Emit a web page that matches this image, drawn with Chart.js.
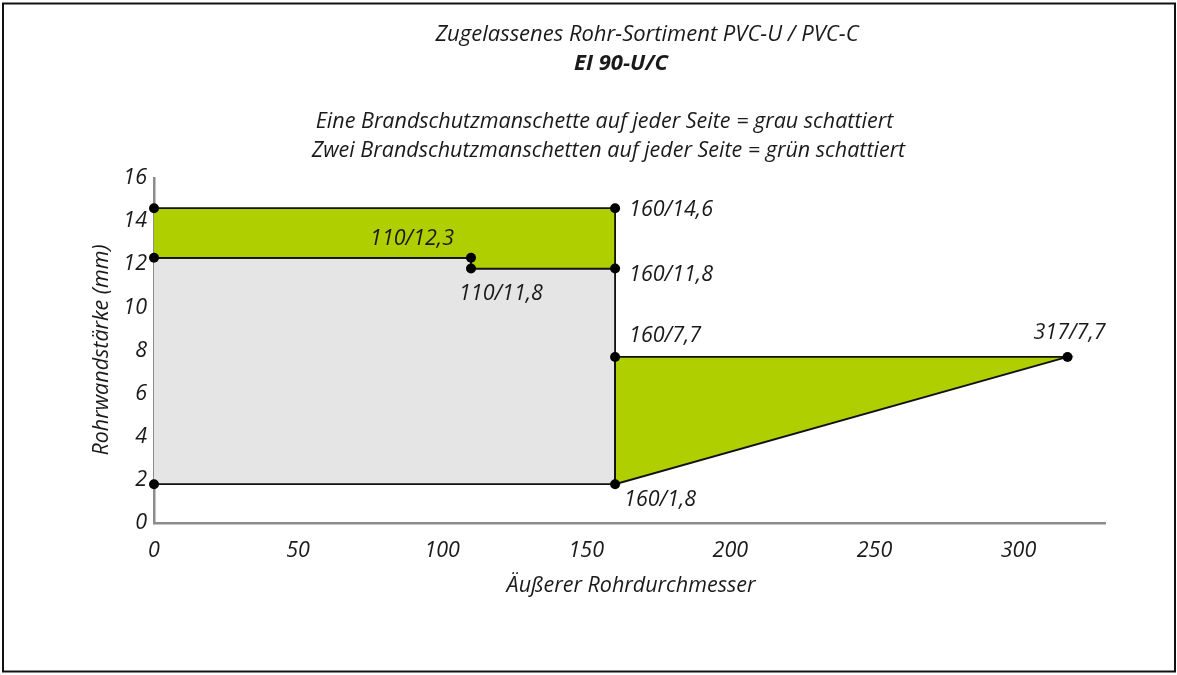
<!DOCTYPE html>
<html>
<head>
<meta charset="utf-8">
<script src="https://cdn.jsdelivr.net/npm/chart.js@4/dist/chart.umd.min.js"></script>
<style>
  html, body { margin: 0; padding: 0; background: #fff; }
  #wrap { width: 1177px; height: 675px; position: relative; }
</style>
</head>
<body>
<div id="wrap"><canvas id="c" width="1177" height="675"></canvas></div>
<script>
// ---- data ----
const titleLines = ['Zugelassenes Rohr-Sortiment PVC-U / PVC-C', 'EI 90-U/C',
  'Eine Brandschutzmanschette auf jeder Seite = grau schattiert',
  'Zwei Brandschutzmanschetten auf jeder Seite = grün schattiert'];
const xAxisTitle = 'Äußerer Rohrdurchmesser';
const yAxisTitle = 'Rohrwandstärke (mm)';

// grey area (one collar on each side) – left edge lies on the axis
const greyX = [0, 110, 110, 160, 160, 0];
const greyY = [12.3, 12.3, 11.8, 11.8, 1.8, 1.8];
// green area top (two collars)
const greenTopX = [0, 160, 160, 110, 110, 0];
const greenTopY = [14.6, 14.6, 11.8, 11.8, 12.3, 12.3];
// green triangle (two collars)
const greenTriX = [160, 317, 160, 160];
const greenTriY = [7.7, 7.7, 1.8, 7.7];
// marked points
const pointX = [0, 0, 0, 110, 110, 160, 160, 160, 160, 317];
const pointY = [14.6, 12.3, 1.8, 12.3, 11.8, 14.6, 11.8, 7.7, 1.8, 7.7];
const pointLabels = ['', '', '', '110/12,3', '110/11,8', '160/14,6', '160/11,8', '160/7,7', '160/1,8', '317/7,7'];

const xTicksMin = 0, xTicksMax = 330, xStep = 50;
const yTicksMin = 0, yTicksMax = 16, yStep = 2;

const toPts = (xs, ys) => xs.map((x, i) => ({x: x, y: ys[i]}));

// ---- styles ----
const FONT = '"Open Sans"';
const GREEN = '#b0cf00';
const GREY = '#e5e5e5';
const TXT = '#1a1a1a';

// label placement relative to point: [dx, dy, align]
const labelPlace = [null, null, null,
  [-17, -19, 'right'], [-12, 25, 'left'], [14, 2, 'left'], [14, 6, 'left'],
  [14, -21, 'left'], [9, 16, 'left'], [2, -24, 'center']];

const textPlugin = {
  id: 'texts',
  afterDraw(chart) {
    const ctx = chart.ctx;
    const xs = chart.scales.x, ys = chart.scales.y;
    ctx.save();
    ctx.fillStyle = TXT;
    ctx.textBaseline = 'middle';
    // titles
    ctx.textAlign = 'center';
    ctx.font = 'italic 22px ' + FONT;
    ctx.fillText(titleLines[0], 647, 35);
    ctx.font = 'italic bold 22px ' + FONT;
    ctx.fillText(titleLines[1], 621, 64);
    ctx.font = 'italic 21.5px ' + FONT;
    ctx.fillText(titleLines[2], 604.5, 122);
    ctx.fillText(titleLines[3], 608.5, 151);
    // axis titles
    ctx.fillText(xAxisTitle, 631, 586);
    ctx.save();
    ctx.translate(102, 350);
    ctx.rotate(-Math.PI / 2);
    ctx.fillText(yAxisTitle, 0, 0);
    ctx.restore();
    // point labels
    pointLabels.forEach((lab, i) => {
      if (!lab) return;
      const p = labelPlace[i];
      const px = xs.getPixelForValue(pointX[i]);
      const py = ys.getPixelForValue(pointY[i]);
      ctx.textAlign = p[2];
      ctx.fillText(lab, px + p[0], py + p[1]);
    });
    // frame
    ctx.strokeStyle = '#111';
    ctx.lineWidth = 2;
    ctx.strokeRect(3, 3.5, 1172, 668);
    ctx.restore();
  }
};

new Chart(document.getElementById('c'), {
  type: 'scatter',
  data: {
    datasets: [
      { label: 'Punkte', data: toPts(pointX, pointY), showLine: false, clip: false,
        pointRadius: 5, pointBackgroundColor: '#000', pointBorderWidth: 0, pointHoverRadius: 5 },
      { label: 'grün Dreieck', data: toPts(greenTriX, greenTriY), showLine: true, fill: 'shape',
        backgroundColor: GREEN, borderColor: '#111', borderWidth: 1.8, pointRadius: 0, tension: 0 },
      { label: 'grün oben', data: toPts(greenTopX, greenTopY), showLine: true, fill: 'shape',
        backgroundColor: GREEN, borderColor: '#111', borderWidth: 1.8, pointRadius: 0, tension: 0 },
      { label: 'grau', data: toPts(greyX, greyY), showLine: true, fill: 'shape',
        backgroundColor: GREY, borderColor: '#111', borderWidth: 1.8, pointRadius: 0, tension: 0 }
    ]
  },
  options: {
    responsive: false,
    animation: false,
    events: [],
    layout: { padding: { left: 0, top: 178, right: 72, bottom: 72 } },
    plugins: { legend: { display: false }, tooltip: { enabled: false }, title: { display: false } },
    scales: {
      x: {
        type: 'linear', min: xTicksMin, max: xTicksMax,
        grid: { display: false, drawTicks: false },
        border: { display: true, color: '#8c8c8c', width: 2.5 },
        ticks: { stepSize: xStep, includeBounds: false, padding: 15, color: TXT,
          font: { family: FONT, style: 'italic', size: 21.5 } },
        afterFit(s) { s.height = 80; }
      },
      y: {
        type: 'linear', min: yTicksMin, max: yTicksMax,
        grid: { display: false, drawTicks: false },
        border: { display: true, color: '#8c8c8c', width: 2.5 },
        ticks: { stepSize: yStep, padding: 7, color: TXT,
          font: { family: FONT, style: 'italic', size: 21.5 } },
        afterFit(s) { s.width = 154; }
      }
    }
  },
  plugins: [textPlugin]
});
</script>
</body>
</html>
